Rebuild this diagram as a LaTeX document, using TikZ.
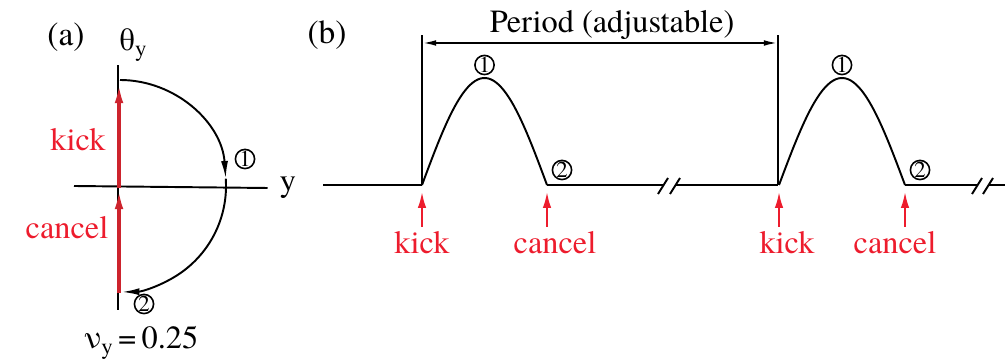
\documentclass[tikz,border=0pt]{standalone}
\usepackage{fontspec}
\setmainfont{texgyretermes-regular.otf}
\usetikzlibrary{arrows.meta}
\definecolor{kickred}{RGB}{237,28,45}
\definecolor{barred}{RGB}{205,35,45}
\tikzset{
  ax/.style={line width=0.55pt},
  redarr/.style={kickred, line width=0.55pt, -{Latex[length=4.5pt,width=2.4pt]}},
  redlab/.style={kickred},
  num/.style={circle, draw, line width=0.45pt, inner sep=0pt, minimum size=1.9mm, font=\fontsize{6.5}{7}\selectfont},
  blkarr/.style={-{Latex[length=4pt,width=1.6pt]}},
}
\newcommand{\subsc}[1]{\raisebox{-0.45ex}{\fontsize{6.5}{7}\selectfont #1}}
\begin{document}
\begin{tikzpicture}[x=0.1mm, y=0.1mm, font=\rmfamily\fontsize{9.2}{11}\selectfont]
\useasboundingbox (0,0) rectangle (1005,364);
% (a) phase space
\node[font=\fontsize{9.5}{11}\selectfont] (laba) at (66,327) {(a)};
\node (theta) at (133,319) {θ\subsc{y}};
\node (yax) at (288,176) {y};
\draw[ax] (118,54) -- (118,299);
\draw[ax] (74,178) -- (yax.west);
% kick and cancel on theta
\coordinate (bot) at (119,71);
\coordinate (mid) at (119,176);
\coordinate (tip) at (119,282);
\draw[barred, line width=1pt, -{Latex[length=6pt,width=2.4pt]}] (bot) -- (mid);
\draw[barred, line width=1pt, -{Latex[length=6pt,width=2.4pt]}] (mid) -- (tip);
\node[redlab] (kicka) at (78,224) {kick};
\node[redlab] (cancela) at (67,136) {cancel};
% orbit
\coordinate (top) at (120,284);
\draw[ax, -{Latex[length=5pt,width=2pt]}] (top) arc[start angle=90, end angle=4, radius=106] coordinate (half);
\draw[ax, -{Latex[length=5pt,width=2pt]}] (half) arc[start angle=4, end angle=-89, radius=106];
\node[num] (onea) at (245,205) {1};
\node[num] (twoa) at (144,60) {2};
\node (tune) at (141,21) {ν\subsc{y}\,=\,0.25};
% (b) time line
\node[font=\fontsize{9.5}{11}\selectfont] (labb) at (327,329) {(b)};
\coordinate (p1) at (422,321);
\coordinate (p2) at (778,321);
\draw[ax] (422,179) -- (422,329);
\draw[ax] (778,179) -- (778,329);
\draw[ax, blkarr] (600,321) -- (p1);
\draw[ax, blkarr] (600,321) -- (p2);
\node (per) at (612,339) {Period (adjustable)};
% baseline with breaks
\draw[ax] (323,179) -- (422,179);
\draw[ax] (547,179) -- (663,179);
\draw[ax] (675,179) -- (778,179);
\draw[ax] (905,179) -- (977,179);
\draw[ax] (988,179) -- (1005,179);
\foreach \b in {663,675,977,988}
  \draw[ax] (\b-5,170) -- (\b+5,186);
% humps
\foreach \k/\c/\n/\kl/\cl in {422/547/1/422/555, 779/905/2/787/895}{
  \draw[ax] plot[domain=0:180, samples=50] ({\k+(\c-\k)*(\x/180)}, {179+107*sin(\x)});
  \node[num] (one\n) at ({(\k+\c)/2},299) {1};
  \node[num] (two\n) at (\c+15,194) {2};
  \coordinate (kt\n) at (\k,172);
  \coordinate (ct\n) at (\c,172);
  \node[redlab] (kick\n) at (\kl,121) {kick};
  \node[redlab] (cancel\n) at (\cl,121) {cancel};
  \draw[redarr] (\k,137) -- (kt\n);
  \draw[redarr] (\c,137) -- (ct\n);
}
\end{tikzpicture}
\end{document}
